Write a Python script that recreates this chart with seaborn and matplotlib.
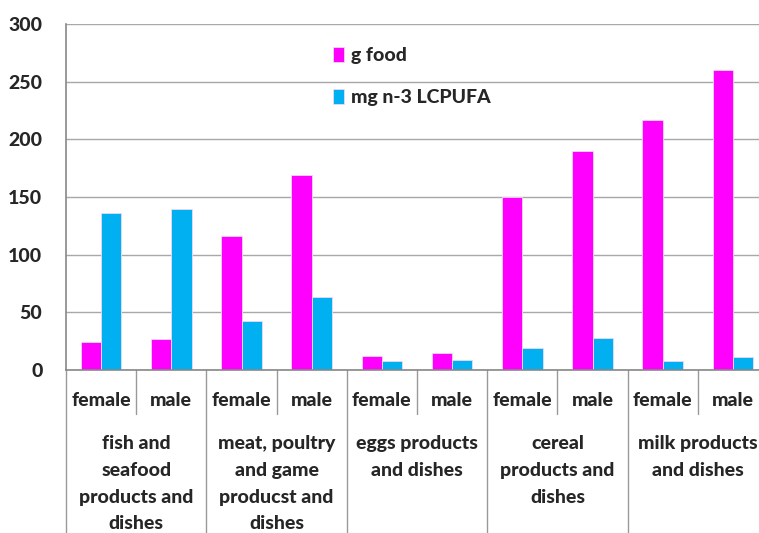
import numpy as np
import pandas as pd
import matplotlib.pyplot as plt
import seaborn as sns

groups = ["fish and\nseafood\nproducts and\ndishes",
          "meat, poultry\nand game\nproducst and\ndishes",
          "eggs products\nand dishes",
          "cereal\nproducts and\ndishes",
          "milk products\nand dishes"]
sexes = ["female", "male"]
series = ["g food", "mg n-3 LCPUFA"]
g_food = [24, 27, 116, 169, 12, 15, 150, 190, 217, 260]
mg_lcpufa = [136, 140, 42.5, 63, 8, 9, 19, 27.5, 8, 11]
colors = ["#FF00FF", "#00B0F0"]
yticks = [0, 50, 100, 150, 200, 250, 300]

slots = [f"{g}|{s}" for g in range(len(groups)) for s in sexes]
df = pd.DataFrame({
    "slot": slots * 2,
    "value": g_food + mg_lcpufa,
    "series": [series[0]] * len(slots) + [series[1]] * len(slots),
})

sns.set_style("white")
plt.rcParams["font.family"] = ["Lato", "DejaVu Sans"]
fw = "black"
fs = 14

fig = plt.figure(figsize=(7.59, 5.33), dpi=100)
ax = fig.add_axes([66 / 759, 163 / 533, 702 / 759, 346 / 533])

sns.barplot(data=df, x="slot", y="value", hue="series", palette=colors,
            saturation=1, width=0.58, edgecolor="#f0d8f8", linewidth=0.6, ax=ax)

ax.set_ylim(0, 300)
ax.set_xlim(-0.5, len(slots) - 0.5)
ax.set_yticks(yticks)
ax.set_yticklabels([str(t) for t in yticks], fontsize=fs, fontweight=fw)
ax.tick_params(axis="y", length=5, color="#888888", pad=12)
ax.tick_params(axis="x", length=0)
ax.set_xticks([])
ax.set_xlabel("")
ax.set_ylabel("")
ax.yaxis.grid(True, color="#A8A8A8", lw=1)
ax.set_axisbelow(True)
for side in ["top", "right"]:
    ax.spines[side].set_visible(False)
for side in ["left", "bottom"]:
    ax.spines[side].set_color("#888888")
    ax.spines[side].set_linewidth(1.2)

trans = ax.get_xaxis_transform()
for i, s in enumerate(slots):
    ax.text(i, -30 / 346, s.split("|")[1], transform=trans, ha="center",
            va="center", fontsize=fs, fontweight=fw)
for gi, g in enumerate(groups):
    ax.text(2 * gi + 0.5, -65 / 346, g, transform=trans, ha="center",
            va="top", fontsize=fs, fontweight=fw, linespacing=1.7)

for b in range(len(slots) + 1):
    x = b - 0.5
    bottom = -44 / 346 if b % 2 == 1 else -0.48
    ax.plot([x, x], [0, bottom], transform=trans, color="#999999", lw=1,
            clip_on=False)

ax.legend(loc="upper left", bbox_to_anchor=(0.355, 0.985), frameon=False,
          handlelength=0.6, handleheight=0.8, handletextpad=0.35,
          labelspacing=1.3, prop={"size": fs, "weight": fw})

fig.savefig("out.png", dpi=100)
